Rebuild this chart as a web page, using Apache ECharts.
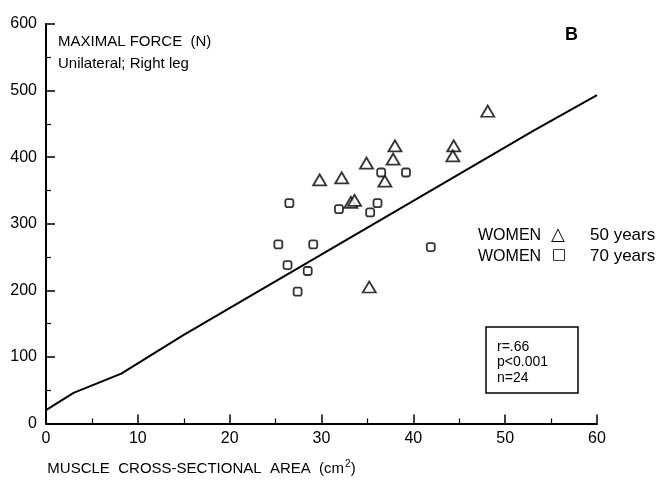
<!DOCTYPE html>
<html>
<head>
<meta charset="utf-8">
<script src="https://cdn.jsdelivr.net/npm/echarts@6/dist/echarts.min.js"></script>
<style>
html,body{margin:0;padding:0;background:#fff;}
#c{width:662px;height:481px;}
</style>
</head>
<body>
<div id="c"></div>
<script>
// Women 50 years (triangles)
const women50X = [48.1, 38.0, 44.4, 37.8, 44.3, 34.9, 29.8, 32.2, 36.9, 33.2, 33.6, 35.2];
const women50Y = [469, 417, 417, 397, 402, 391, 366, 369, 364, 332, 335, 205];
// Women 70 years (squares)
const women70X = [26.5, 36.5, 39.2, 31.9, 35.3, 36.1, 25.3, 29.1, 41.9, 26.3, 28.5, 27.4];
const women70Y = [331, 377, 377, 322, 317, 331, 269, 269, 265, 238, 229, 198];
// Regression line as drawn
const lineX = [0, 3, 8.2, 15, 53.1, 60];
const lineY = [20, 46, 75, 133, 440, 493];
const xTicks = [0, 10, 20, 30, 40, 50, 60];
const yTicks = [0, 100, 200, 300, 400, 500, 600];

const zip = (a, b) => a.map((v, i) => [v, b[i]]);
const font = 'Liberation Sans, Arial, Helvetica, sans-serif';

const chart = echarts.init(document.getElementById('c'), null, {renderer: 'canvas'});
chart.setOption({
  backgroundColor: '#fff',
  animation: false,
  grid: {left: 46, right: 65, top: 24, bottom: 57},
  xAxis: {
    type: 'value', min: xTicks[0], max: xTicks[xTicks.length - 1], interval: 10,
    axisLine: {lineStyle: {color: '#000', width: 2}},
    axisTick: {inside: true, length: 9, lineStyle: {color: '#000', width: 1.5}},
    minorTick: {show: true, splitNumber: 2, length: 5, lineStyle: {color: '#000', width: 1.2}},
    splitLine: {show: false},
    axisLabel: {color: '#000', fontSize: 16, fontFamily: font, margin: 7},
    name: 'MUSCLE  CROSS-SECTIONAL  AREA  (cm{sup|2})',
    nameLocation: 'middle', nameGap: 36,
    nameTextStyle: {
      color: '#000', fontSize: 15, fontFamily: font, padding: [0, 240, 0, 0],
      rich: {sup: {fontSize: 10, fontFamily: font, color: '#000', padding: [0, 0, 8, 1]}}
    }
  },
  yAxis: {
    type: 'value', min: yTicks[0], max: yTicks[yTicks.length - 1], interval: 100,
    axisLine: {show: true, lineStyle: {color: '#000', width: 2}},
    axisTick: {show: true, inside: true, length: 9, lineStyle: {color: '#000', width: 1.5}},
    minorTick: {show: true, splitNumber: 2, length: 5, lineStyle: {color: '#000', width: 1.2}},
    splitLine: {show: false},
    axisLabel: {color: '#000', fontSize: 16, fontFamily: font, margin: 9}
  },
  series: [
    {
      type: 'line', data: zip(lineX, lineY), showSymbol: false, symbol: 'none',
      lineStyle: {color: '#000', width: 2}, z: 1
    },
    {
      name: 'WOMEN 50 years', type: 'scatter', data: zip(women50X, women50Y),
      symbol: 'triangle', symbolSize: [13, 11],
      itemStyle: {color: '#fff', borderColor: '#000', borderWidth: 1.8}, z: 3
    },
    {
      name: 'WOMEN 70 years', type: 'scatter', data: zip(women70X, women70Y),
      symbol: 'roundRect', symbolSize: 8,
      itemStyle: {color: '#fff', borderColor: '#000', borderWidth: 1.8}, z: 3
    }
  ],
  graphic: [
    {type: 'text', left: 58, top: 34, style: {text: 'MAXIMAL FORCE  (N)', font: '15px ' + font, fill: '#000'}},
    {type: 'text', left: 58, top: 56, style: {text: 'Unilateral; Right leg', font: '15px ' + font, fill: '#000'}},
    {type: 'text', left: 565, top: 26, style: {text: 'B', font: 'bold 18px ' + font, fill: '#000'}},
    {type: 'text', left: 478, top: 228, style: {text: 'WOMEN', font: '16px ' + font, fill: '#000'}},
    {type: 'text', left: 551, top: 226, style: {text: '\u25B3', font: '18px DejaVu Sans', fill: '#000'}},
    {type: 'text', left: 590, top: 227, style: {text: '50 years', font: '17px ' + font, fill: '#000'}},
    {type: 'text', left: 478, top: 249, style: {text: 'WOMEN', font: '16px ' + font, fill: '#000'}},
    {type: 'text', left: 552, top: 248, style: {text: '\u25A1', font: '15px DejaVu Sans', fill: '#000'}},
    {type: 'text', left: 590, top: 248, style: {text: '70 years', font: '17px ' + font, fill: '#000'}},
    {type: 'rect', shape: {x: 486, y: 327, width: 92, height: 66}, style: {fill: '#fff', stroke: '#000', lineWidth: 1.5}},
    {type: 'text', left: 497, top: 339, style: {text: 'r=.66\np<0.001\nn=24', font: '14px ' + font, fill: '#000', lineHeight: 15.5}}
  ]
});
</script>
</body>
</html>
